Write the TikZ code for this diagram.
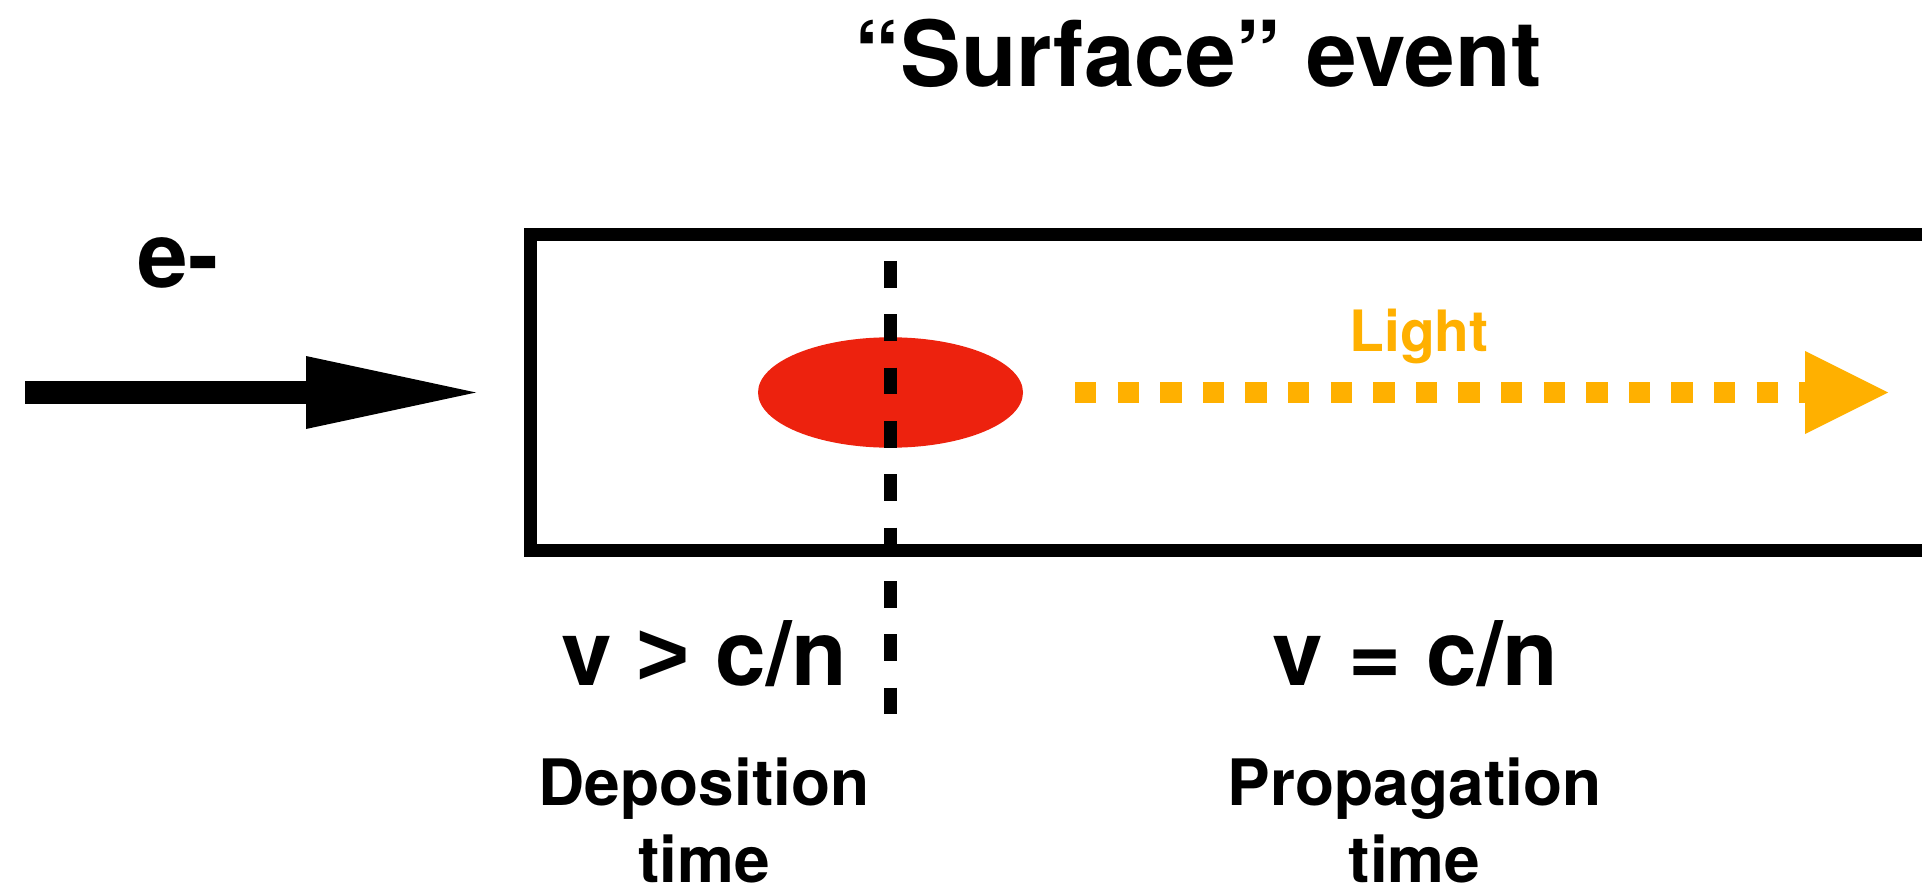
\documentclass[tikz,border=0pt]{standalone}
\usepackage{fontspec}
\setmainfont{TeX Gyre Heros}
\newfontfamily\gtfont{Liberation Sans}
\usetikzlibrary{shapes.geometric,calc}
\definecolor{eventred}{RGB}{237,34,14}
\definecolor{lightorange}{RGB}{255,176,0}
\begin{document}
\begin{tikzpicture}[x=1pt,y=-1pt,
  bigtxt/.style={inner sep=0pt, anchor=base, font=\bfseries\fontsize{91}{100}\selectfont},
  smalltxt/.style={inner sep=0pt, anchor=base, align=center, font=\bfseries\fontsize{64}{77}\selectfont},
  lighttxt/.style={inner sep=0pt, anchor=base, text=lightorange, font=\bfseries\fontsize{57}{66}\selectfont},
  thickline/.style={line width=13pt},
  beam/.style={line width=23pt},
  lightbeam/.style={lightorange, line width=21.5pt, dash pattern=on 21.3pt off 21.3pt}]
\clip (0,0) rectangle (1922,893);
% title
\node[bigtxt] (title) at (1198,87) {“Surface” event};
% detector box (open to the right)
\draw[thickline, line join=miter] (1945,234.5) -- (530.5,234.5) -- (530.5,550.5) -- (1945,550.5);
% energy deposit
\node[ellipse, fill=eventred, inner sep=0pt, minimum width=265pt, minimum height=110.4pt] (dep) at (890.5,392.5) {};
% dashed boundary
\coordinate (dtop) at (890,261);
\coordinate (dbot) at (890,715);
\draw[thickline, dash pattern=on 26.67pt off 26.67pt] (dtop) -- (dbot);
% incoming electron
\node[bigtxt] (elec) at (178,288) {e-};
\coordinate (ein) at (25,392.5);
\coordinate (ehb) at (306,392.5);
\coordinate (etip) at (476,392.5);
\draw[beam] (ein) -- (ehb);
\fill (ehb) ++(0,-36.5) -- (etip) -- ($(ehb)+(0,36.5)$) -- cycle;
% light
\coordinate (lstart) at (1075,392.5);
\coordinate (lhb) at (1805,392.5);
\coordinate (ltip) at (1888,392.5);
\draw[lightbeam] (lstart) -- (lhb);
\fill[lightorange] (lhb) ++(0,-41.5) -- (ltip) -- ($(lhb)+(0,41.5)$) -- cycle;
\node[lighttxt] (light) at (1419,352) {Light};
% speeds
\node[bigtxt] (vgt) at (704,685) {v {\gtfont >} c/n};
\node[bigtxt] (veq) at (1415.5,685) {v = c/n};
\node[smalltxt] (deptime) at (704,882) {Deposition\\time};
\node[smalltxt] (proptime) at (1414.5,882) {Propagation\\time};
\end{tikzpicture}
\end{document}
